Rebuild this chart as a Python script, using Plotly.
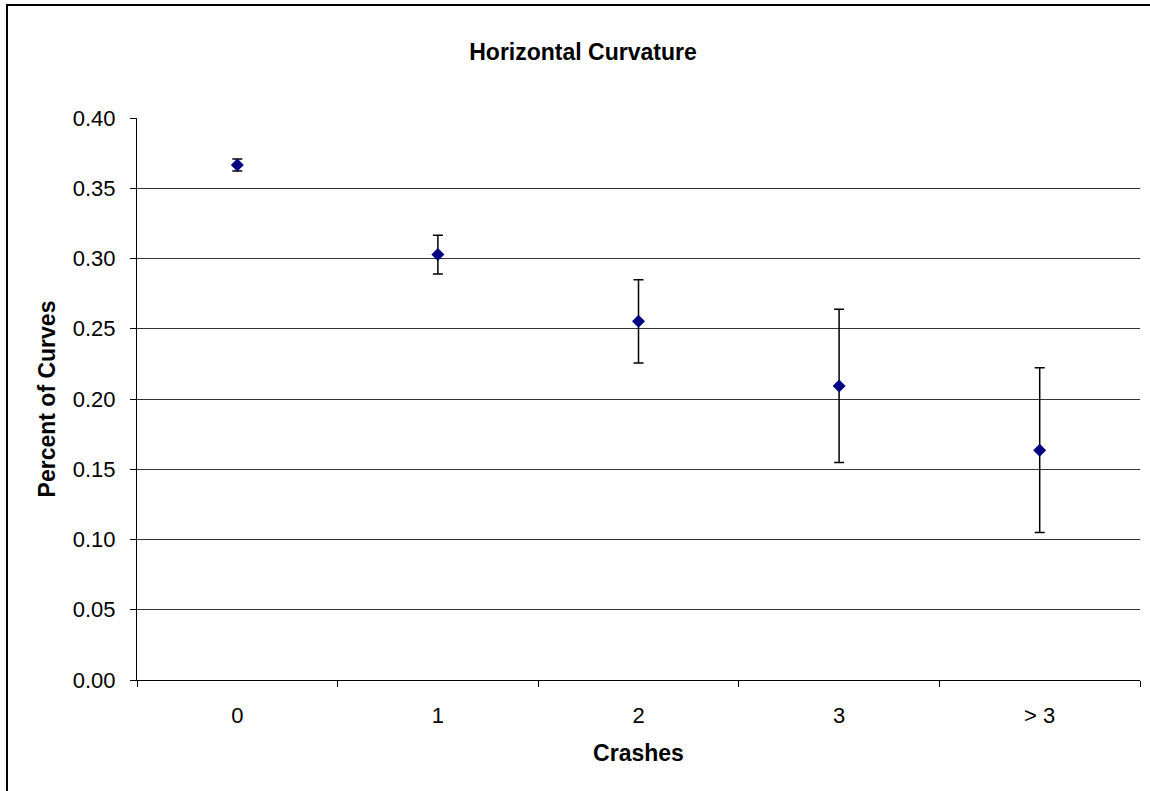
import plotly.graph_objects as go

categories = ["0", "1", "2", "3", "> 3"]
percent_of_curves = [0.3665, 0.3028, 0.2553, 0.2093, 0.1636]
error_margin = [0.0043, 0.0138, 0.0296, 0.0545, 0.0587]
y_ticks = [0.00, 0.05, 0.10, 0.15, 0.20, 0.25, 0.30, 0.35, 0.40]

FONT = "Arial, Liberation Sans, sans-serif"
TICK_SIZE = 22
TITLE_SIZE = 23

W, H = 1150, 791
L, R, T, B = 137, 10, 118, 111
pw, ph = W - L - R, H - T - B

def px_x(p):
    return (p - L) / pw

def px_y(p):
    return (H - B - p) / ph

fig = go.Figure()
fig.add_trace(go.Scatter(
    x=categories,
    y=percent_of_curves,
    mode="markers",
    marker=dict(symbol="diamond", size=10, color="#000080", line=dict(width=0)),
    error_y=dict(type="data", array=error_margin, visible=True,
                 color="black", thickness=1.5, width=5),
    showlegend=False,
))

fig.update_layout(
    width=W, height=H,
    margin=dict(l=L, r=R, t=T, b=B),
    paper_bgcolor="white",
    plot_bgcolor="white",
    font=dict(family=FONT, size=TICK_SIZE, color="black"),
    title=dict(text="<b>Horizontal Curvature</b>", x=583 / W, xanchor="center",
               y=1 - 52 / H, yanchor="middle", font=dict(size=TITLE_SIZE, family=FONT)),
    xaxis=dict(
        type="category",
        tickson="boundaries",
        ticks="outside", ticklen=6, tickcolor="black", tickwidth=1,
        ticklabelstandoff=16,
        showline=True, linecolor="black", linewidth=1,
        showgrid=False, zeroline=False,
        range=[-0.5, 4.5],
        title=dict(text="<b>Crashes</b>", standoff=17, font=dict(size=TITLE_SIZE)),
        tickfont=dict(size=TICK_SIZE),
    ),
    yaxis=dict(
        range=[0, 0.40],
        tickvals=y_ticks,
        tickformat=".2f",
        ticks="outside", ticklen=6, tickcolor="black", tickwidth=1,
        ticklabelstandoff=10,
        showline=True, linecolor="black", linewidth=1,
        showgrid=True, gridcolor="#333333", gridwidth=1,
        zeroline=False,
        title=dict(text="<b>Percent of Curves</b>", standoff=10, font=dict(size=TITLE_SIZE)),
        tickfont=dict(size=TICK_SIZE),
    ),
    shapes=[dict(type="rect", xref="paper", yref="paper",
                 x0=px_x(7), x1=px_x(1160), y0=px_y(800), y1=px_y(5),
                 line=dict(color="black", width=2), layer="below")],
)

fig.write_html("out.html", config={"displayModeBar": False},
               post_script="document.body.style.margin='0';document.body.style.overflow='hidden';")
